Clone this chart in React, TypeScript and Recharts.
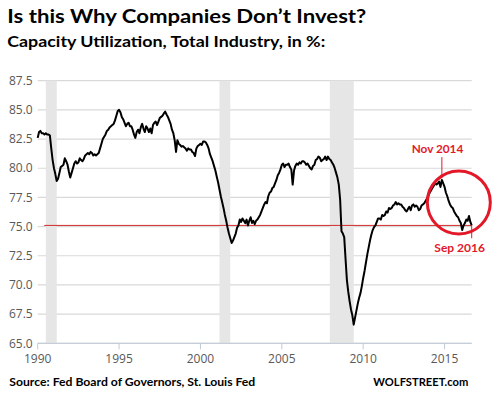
import {
  LineChart,
  Line,
  XAxis,
  YAxis,
  CartesianGrid,
  ReferenceArea,
  ReferenceLine,
  ReferenceDot,
} from 'recharts';

// Capacity utilization, total industry, monthly, in %
const CU_1990S = [
  82.6, 83.1, 83.2, 83.0, 83.0, 82.9, 83.0, 82.9, 82.9, 82.8, 81.7, 80.7, // 1990
  80.0, 79.5, 78.9, 79.1, 79.6, 80.1, 80.2, 80.3, 80.85, 80.6, 80.3, 79.7, // 1991
  79.2, 79.6, 80.0, 80.4, 80.6, 80.4, 80.5, 80.85, 80.7, 80.6, 80.8, 81.1, // 1992
  81.2, 81.3, 81.2, 81.4, 81.3, 81.1, 81.2, 81.1, 81.2, 81.3, 81.7, 82.1, // 1993
  82.5, 82.7, 82.9, 83.2, 83.3, 83.5, 83.6, 83.7, 83.8, 84.1, 84.5, 84.9, // 1994
  85.0, 84.8, 84.4, 84.2, 83.9, 83.6, 83.8, 83.9, 83.6, 83.6, 83.3, 82.9, // 1995
  82.6, 83.1, 83.3, 83.0, 83.5, 83.8, 83.4, 83.1, 83.6, 83.4, 83.1, 83.4, // 1996
  83.0, 83.7, 83.9, 84.0, 83.7, 84.0, 84.3, 84.4, 84.5, 84.7, 84.85, 84.6, // 1997
  84.4, 84.1, 83.8, 83.3, 83.0, 82.4, 81.4, 82.4, 82.1, 82.0, 81.85, 81.9, // 1998
  81.8, 81.7, 81.5, 81.7, 81.6, 81.6, 81.4, 81.3, 81.05, 81.7, 81.9, 82.0, // 1999
];

const CU_2000S = [
  82.1, 82.0, 82.3, 82.3, 82.2, 82.0, 81.7, 81.2, 80.9, 80.6, 80.2, 79.8, // 2000
  79.3, 78.8, 78.2, 77.6, 77.1, 76.6, 76.0, 75.5, 74.9, 74.4, 74.0, 73.6, // 2001
  73.8, 74.1, 74.4, 74.9, 75.1, 75.6, 75.4, 75.7, 75.5, 75.3, 75.6, 75.1, // 2002
  75.5, 75.8, 75.3, 75.5, 75.2, 75.5, 75.6, 75.8, 76.0, 76.3, 76.6, 76.9, // 2003
  77.1, 77.0, 77.6, 77.9, 78.0, 78.3, 78.4, 78.7, 79.0, 79.4, 79.6, 79.9, // 2004
  80.3, 80.4, 80.1, 80.3, 80.3, 80.4, 80.1, 79.9, 78.6, 79.8, 80.2, 80.4, // 2005
  80.3, 80.5, 80.4, 80.6, 80.6, 80.5, 80.3, 80.4, 80.2, 80.0, 79.9, 80.2, // 2006
  80.3, 80.7, 80.8, 81.0, 80.9, 80.6, 80.7, 80.8, 81.0, 80.7, 81.0, 80.8, // 2007
  80.7, 80.5, 80.3, 80.0, 79.6, 79.2, 78.6, 77.3, 74.6, 74.4, 74.1, 72.2, // 2008
  70.4, 69.4, 68.6, 67.9, 67.4, 66.6, 67.2, 67.8, 68.4, 68.9, 69.3, 69.9, // 2009
];

const CU_2010S = [
  70.6, 71.2, 71.9, 72.6, 73.2, 73.8, 74.3, 74.7, 74.95, 75.1, 75.4, 75.7, // 2010
  75.7, 75.6, 76.0, 75.9, 76.0, 76.3, 76.2, 76.6, 76.5, 76.6, 76.8, 76.9, // 2011
  77.1, 76.9, 77.0, 76.9, 76.9, 76.7, 76.6, 76.4, 76.3, 76.5, 76.7, 76.4, // 2012
  76.8, 76.9, 76.7, 76.8, 76.7, 76.4, 76.5, 76.8, 76.9, 77.0, 77.2, 77.4, // 2013
  77.6, 77.9, 78.1, 78.3, 78.5, 78.7, 78.6, 78.7, 78.85, 78.4, 79.0, 78.7, // 2014
  78.4, 77.9, 77.6, 77.2, 76.9, 76.7, 76.6, 76.3, 76.1, 75.9, 75.8, 75.5, // 2015
  75.3, 74.7, 75.1, 75.3, 75.6, 75.5, 75.9, 75.4, 75.1, // 2016 (to Sep)
];

const START_YEAR = 1990;
const Y_TICKS = [65, 67.5, 70, 72.5, 75, 77.5, 80, 82.5, 85, 87.5];
const X_TICKS = [1990, 1995, 2000, 2005, 2010, 2015];
const RECESSIONS = [
  [1990.5, 1991.17],
  [2001.17, 2001.83],
  [2007.95, 2009.42],
];
const NOV_2014 = 2014 + 10 / 12;
const SEP_2016 = 2016 + 8 / 12;

const values = [...CU_1990S, ...CU_2000S, ...CU_2010S];
const data = values.map((v, i) => ({ t: START_YEAR + i / 12, v }));
const lastValue = values[values.length - 1];
const peakValue = values[(2014 - START_YEAR) * 12 + 10];

const RED = '#e3192a';
const TITLE_FONT = 'Lato, "Open Sans", sans-serif';

export default function App() {
  return (
    <div style={{ position: 'absolute', left: 0, top: 0, width: 493, height: 398, background: '#fff' }}>
      <LineChart
        width={493}
        height={398}
        data={data}
        margin={{ top: 80.7, right: 21.3, bottom: 24.7, left: 0 }}
      >
        <CartesianGrid vertical={false} stroke="#d9d9d9" strokeWidth={1.2} />
        {RECESSIONS.map(([a, b], i) => (
          <ReferenceArea key={i} x1={a} x2={b} fill="#e6e6e6" fillOpacity={1} stroke="none" />
        ))}
        <XAxis
          dataKey="t"
          type="number"
          domain={[START_YEAR, SEP_2016]}
          ticks={X_TICKS}
          height={30}
          stroke="#bfcad8"
          tickSize={6}
          tickMargin={5}
          tick={{ fontSize: 12, fill: '#595959', fontFamily: '"Open Sans", sans-serif' }}
        />
        <YAxis
          type="number"
          domain={[65, 87.5]}
          ticks={Y_TICKS}
          width={37.7}
          axisLine={false}
          tickLine={false}
          tickSize={3}
          tickMargin={2}
          tickFormatter={(v: number) => v.toFixed(1)}
          tick={{ fontSize: 12, fill: '#595959', fontFamily: '"Open Sans", sans-serif' }}
        />
        <ReferenceLine
          segment={[{ x: 1990.4, y: lastValue }, { x: SEP_2016, y: lastValue }]}
          stroke="#d42a2a"
          strokeWidth={1}
        />
        <Line
          type="linear"
          dataKey="v"
          stroke="#000"
          strokeWidth={2}
          dot={false}
          isAnimationActive={false}
          strokeLinejoin="round"
        />
        <ReferenceLine
          segment={[{ x: NOV_2014, y: peakValue + 0.15 }, { x: NOV_2014, y: 80.95 }]}
          stroke={RED}
          strokeWidth={1}
        />
        <ReferenceLine
          segment={[{ x: SEP_2016, y: lastValue }, { x: SEP_2016, y: 74.0 }]}
          stroke={RED}
          strokeWidth={1}
        />
        <ReferenceDot
          x={2015.875}
          y={77.07}
          r={31.5}
          fill="none"
          stroke={RED}
          strokeWidth={3}
          ifOverflow="visible"
        />
      </LineChart>
      <svg
        width={493}
        height={398}
        style={{ position: 'absolute', left: 0, top: 0, pointerEvents: 'none' }}
      >
        <text x={7.3} y={22.7} fontFamily={TITLE_FONT} fontWeight={700} fontSize={19} fill="#000"
          textLength={359} lengthAdjust="spacingAndGlyphs">
          Is this Why Companies Don’t Invest?
        </text>
        <text x={7.3} y={47} fontFamily={TITLE_FONT} fontWeight={700} fontSize={14.3} fill="#000"
          textLength={318} lengthAdjust="spacingAndGlyphs">
          Capacity Utilization, Total Industry, in %:
        </text>
        <text x={9.3} y={385.7} fontFamily={TITLE_FONT} fontWeight={700} fontSize={11.2} fill="#000"
          textLength={246} lengthAdjust="spacingAndGlyphs">
          Source: Fed Board of Governors, St. Louis Fed
        </text>
        <text x={373.3} y={385.7} fontFamily={TITLE_FONT} fontWeight={700} fontSize={11.2} fill="#000"
          textLength={95} lengthAdjust="spacingAndGlyphs">
          WOLFSTREET.com
        </text>
        <text x={411.7} y={153.3} fontFamily={TITLE_FONT} fontWeight={700} fontSize={11.5} fill={RED}
          textLength={51.6} lengthAdjust="spacingAndGlyphs">
          Nov 2014
        </text>
        <text x={434.3} y={251.7} fontFamily={TITLE_FONT} fontWeight={700} fontSize={11.5} fill={RED}
          textLength={50.7} lengthAdjust="spacingAndGlyphs">
          Sep 2016
        </text>
      </svg>
    </div>
  );
}
